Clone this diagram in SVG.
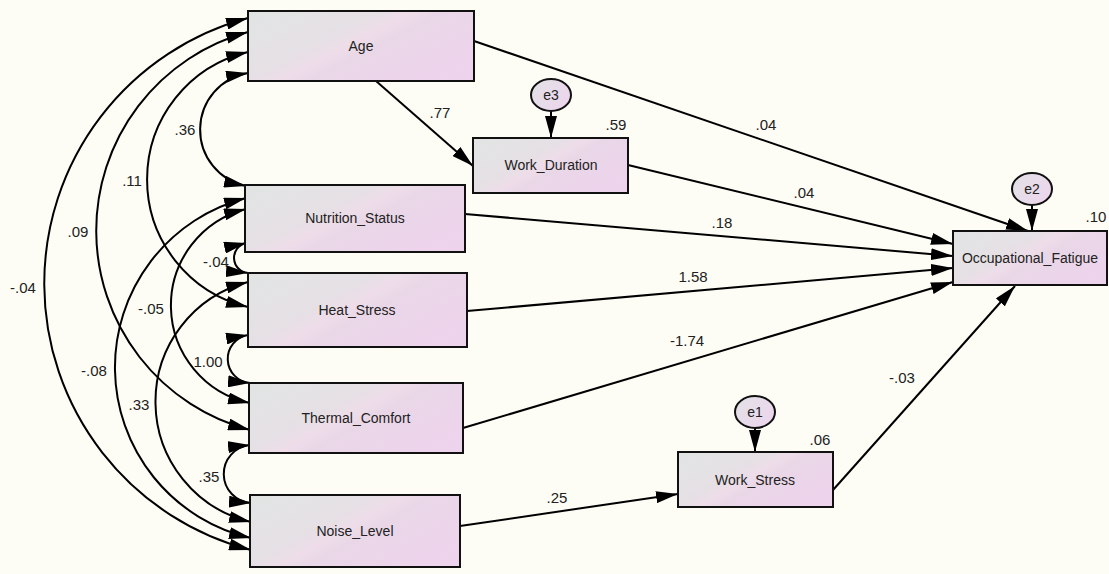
<svg xmlns="http://www.w3.org/2000/svg" width="1109" height="574" viewBox="0 0 1109 574">
<defs>
<linearGradient id="boxfill" x1="0" y1="0.2" x2="1" y2="0.8">
<stop offset="0" stop-color="#e2e4e4"/>
<stop offset="0.35" stop-color="#e6e0e5"/>
<stop offset="0.45" stop-color="#eedde9"/>
<stop offset="0.55" stop-color="#e9d7e7"/>
<stop offset="1" stop-color="#eed3ed"/>
</linearGradient>
<linearGradient id="efill" x1="0" y1="0" x2="1" y2="0.6">
<stop offset="0" stop-color="#e2e2e6"/>
<stop offset="1" stop-color="#ecd6ec"/>
</linearGradient>
<marker id="ah" markerWidth="22" markerHeight="12" refX="22" refY="6" orient="auto-start-reverse" markerUnits="userSpaceOnUse">
<path d="M0,0 L22,6 L0,12 z" fill="#000"/>
</marker>
</defs>
<style>
.box{fill:url(#boxfill);stroke:#111;stroke-width:2}
.err{fill:url(#efill);stroke:#111;stroke-width:2}
.lbl{font-family:"Liberation Sans",Arial,sans-serif;font-size:14px;fill:#222;text-anchor:middle}
.num{font-family:"Liberation Sans",Arial,sans-serif;font-size:15px;fill:#222;text-anchor:middle}
.path{fill:none;stroke:#000;stroke-width:2;marker-end:url(#ah)}
.cov{fill:none;stroke:#000;stroke-width:2;marker-start:url(#ah);marker-end:url(#ah)}
</style>
<rect x="0" y="0" width="1109" height="574" fill="#fdfdf6"/>

<g id="connectors">
<path class="path" d="M376,81 L473,166"/>
<path class="path" d="M474,41 L1028,231"/>
<path class="path" d="M628,165 L953,244"/>
<path class="path" d="M465,214 L953,256"/>
<path class="path" d="M467,311 L953,268"/>
<path class="path" d="M463,428 L953,282"/>
<path class="path" d="M833,490 L1015,286"/>
<path class="path" d="M460,526 L678,494"/>
<path class="path" d="M551,111 L551,138"/>
<path class="path" d="M1032,205 L1032,231"/>
<path class="path" d="M755,428 L755,452"/>

<path class="cov" d="M248,73 A57.5,57.5 0 0 0 246,186"/>
<path class="cov" d="M248,52 A131,131 0 0 0 248,307"/>
<path class="cov" d="M248,32 A206,206 0 0 0 250,430"/>
<path class="cov" d="M248,18 A275,275 0 0 0 251,550"/>
<path class="cov" d="M246,243 A15.2,15.2 0 0 0 248,273"/>
<path class="cov" d="M246,209 A99.6,99.6 0 0 0 250,403"/>
<path class="cov" d="M246,198 A175,175 0 0 0 251,538"/>
<path class="cov" d="M248,335 A24.2,24.2 0 0 0 250,383"/>
<path class="cov" d="M248,282 A123.6,123.6 0 0 0 251,522"/>
<path class="cov" d="M250,445 A29.1,29.1 0 0 0 251,503"/>

<text class="num" x="440" y="118">.77</text>
<text class="num" x="766" y="130">.04</text>
<text class="num" x="804" y="198">.04</text>
<text class="num" x="722" y="228">.18</text>
<text class="num" x="693" y="282">1.58</text>
<text class="num" x="687" y="346">-1.74</text>
<text class="num" x="557" y="503">.25</text>
<text class="num" x="902" y="383">-.03</text>

<text class="num" x="185" y="135">.36</text>
<text class="num" x="132" y="186">.11</text>
<text class="num" x="78" y="237">.09</text>
<text class="num" x="23" y="293">-.04</text>
<text class="num" x="216" y="267">-.04</text>
<text class="num" x="151" y="314">-.05</text>
<text class="num" x="94" y="376">-.08</text>
<text class="num" x="208" y="367">1.00</text>
<text class="num" x="139" y="410">.33</text>
<text class="num" x="209" y="482">.35</text>
</g>

<g id="Age"><rect class="box" x="248" y="11" width="226" height="70"/><text class="lbl" x="361" y="51">Age</text></g>
<g id="Work_Duration"><rect class="box" x="473" y="138" width="155" height="55"/><text class="lbl" x="551" y="170">Work_Duration</text><text class="num" x="616" y="130">.59</text></g>
<g id="Nutrition_Status"><rect class="box" x="245" y="185" width="220" height="67"/><text class="lbl" x="355" y="223">Nutrition_Status</text></g>
<g id="Heat_Stress"><rect class="box" x="248" y="273" width="219" height="74"/><text class="lbl" x="357" y="315">Heat_Stress</text></g>
<g id="Thermal_Comfort"><rect class="box" x="249" y="383" width="214" height="70"/><text class="lbl" x="356" y="423">Thermal_Comfort</text></g>
<g id="Noise_Level"><rect class="box" x="250" y="495" width="210" height="72"/><text class="lbl" x="355" y="536">Noise_Level</text></g>
<g id="Occupational_Fatigue"><rect class="box" x="953" y="231" width="154" height="54"/><text class="lbl" x="1030" y="263">Occupational_Fatigue</text><text class="num" x="1096" y="222">.10</text></g>
<g id="Work_Stress"><rect class="box" x="678" y="452" width="155" height="55"/><text class="lbl" x="755" y="485">Work_Stress</text><text class="num" x="820" y="445">.06</text></g>
<g id="e3"><ellipse class="err" cx="551" cy="95" rx="20" ry="16"/><text class="lbl" x="551" y="100">e3</text></g>
<g id="e2"><ellipse class="err" cx="1032" cy="189" rx="20" ry="16"/><text class="lbl" x="1032" y="194">e2</text></g>
<g id="e1"><ellipse class="err" cx="755" cy="412" rx="20" ry="16"/><text class="lbl" x="755" y="417">e1</text></g>
</svg>
